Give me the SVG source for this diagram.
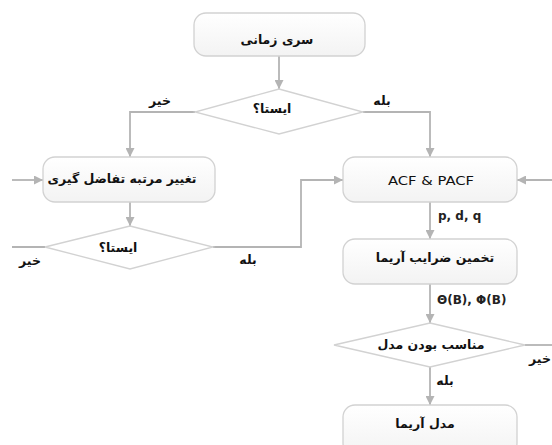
<svg xmlns="http://www.w3.org/2000/svg" width="552" height="445" viewBox="0 0 552 445">
<style>
.box{fill:url(#g);stroke:#d2d2d2;stroke-width:1.3}
.dia{fill:#fff;stroke:#d2d2d2;stroke-width:1.3}
.ln{fill:none;stroke:#b4b4b4;stroke-width:1.8}
.fa{font-family:"DejaVu Sans",sans-serif;font-weight:bold;font-size:12.5px;fill:#111;text-anchor:middle}
.la{font-family:"DejaVu Sans",sans-serif;font-size:12px;fill:#222;font-weight:bold}
</style>
<defs>
<linearGradient id="g" x1="0" y1="0" x2="0" y2="1"><stop offset="0" stop-color="#ffffff"/><stop offset="1" stop-color="#f3f3f3"/></linearGradient>
<marker id="ah" viewBox="0 0 10 10" refX="10" refY="5" markerWidth="5" markerHeight="5" orient="auto" markerUnits="strokeWidth"><path d="M0,0 L10,5 L0,10 z" fill="#b4b4b4"/></marker>
</defs>
<g id="connectors">
<path class="ln" d="M279,56 V89" marker-end="url(#ah)"/>
<path class="ln" d="M195,112 H130 V157" marker-end="url(#ah)"/>
<path class="ln" d="M363,112 H430 V157" marker-end="url(#ah)"/>
<path class="ln" d="M12,180 H43" marker-end="url(#ah)"/>
<path class="ln" d="M130,202 V226" marker-end="url(#ah)"/>
<path class="ln" d="M45,247 H12"/>
<path class="ln" d="M213,247 H301 V180 H343" marker-end="url(#ah)"/>
<path class="ln" d="M552,180 H517" marker-end="url(#ah)"/>
<path class="ln" d="M430,202 V239" marker-end="url(#ah)"/>
<path class="ln" d="M430,284 V323" marker-end="url(#ah)"/>
<path class="ln" d="M525,345 H552"/>
<path class="ln" d="M430,367 V405" marker-end="url(#ah)"/>
<text class="fa" x="160" y="105" direction="rtl">خیر</text>
<text class="fa" x="382" y="105" direction="rtl">بله</text>
<text class="fa" x="30" y="265" direction="rtl">خیر</text>
<text class="fa" x="248" y="264" direction="rtl">بله</text>
<text class="la" x="438" y="220">p, d, q</text>
<text class="la" x="437" y="304">Θ(B), Φ(B)</text>
<text class="fa" x="540" y="363" direction="rtl">خیر</text>
<text class="fa" x="445" y="385" direction="rtl">بله</text>
</g>
<g id="n1"><rect class="box" x="194" y="13" width="171" height="43" rx="12"/><text class="fa" x="277" y="44" direction="rtl">سری زمانی</text></g>
<g id="d1"><path class="dia" d="M279,89 L363,112 L279,134 L195,112 z"/><text class="fa" x="272" y="113" direction="rtl">ایستا؟</text></g>
<g id="n2"><rect class="box" x="43" y="157" width="172" height="45" rx="12"/><text class="fa" x="122" y="183" direction="rtl">تغییر مرتبه تفاضل گیری</text></g>
<g id="d2"><path class="dia" d="M130,226 L213,247 L130,269 L45,247 z"/><text class="fa" x="118" y="252" direction="rtl">ایستا؟</text></g>
<g id="n3"><rect class="box" x="343" y="157" width="174" height="45" rx="12"/><text class="la" x="431" y="185" text-anchor="middle" textLength="86" lengthAdjust="spacingAndGlyphs" style="font-weight:normal;fill:#111">ACF &amp; PACF</text></g>
<g id="n4"><rect class="box" x="343" y="239" width="174" height="45" rx="12"/><text class="fa" x="435" y="262" direction="rtl">تخمین ضرایب آریما</text></g>
<g id="d3"><path class="dia" d="M430,323 L525,345 L430,367 L334,345 z"/><text class="fa" x="431" y="349" direction="rtl">مناسب بودن مدل</text></g>
<g id="n5"><rect class="box" x="343" y="405" width="174" height="50" rx="12"/><text class="fa" x="425" y="428" direction="rtl">مدل آریما</text></g>
</svg>
